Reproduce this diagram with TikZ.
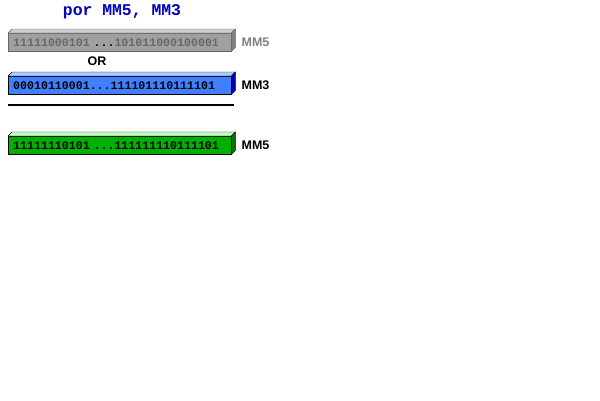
\documentclass[tikz,border=0pt]{standalone}
\usepackage{fontspec}
\setmainfont{Liberation Sans}
\newfontfamily\bitsfont{Liberation Mono}
\usetikzlibrary{positioning}

\definecolor{grayFront}{RGB}{160,160,160}
\definecolor{grayTop}{RGB}{204,204,204}
\definecolor{graySide}{RGB}{128,128,128}
\definecolor{grayEdge}{RGB}{100,100,100}
\definecolor{grayBits}{RGB}{104,104,104}
\definecolor{blueFront}{RGB}{64,128,255}
\definecolor{blueTop}{RGB}{170,204,255}
\definecolor{blueSide}{RGB}{0,0,170}
\definecolor{greenFront}{RGB}{0,176,0}
\definecolor{greenTop}{RGB}{192,255,192}
\definecolor{greenSide}{RGB}{0,120,0}
\definecolor{titleBlue}{RGB}{0,0,190}

\begin{document}
\begin{tikzpicture}[x=1pt, y=-1pt,
  bar/.style={draw, minimum height=18pt, text width=213pt, inner xsep=5pt,
              inner ysep=0pt, align=left, anchor=north west,
              font=\bitsfont\bfseries\fontsize{11.6}{12}\selectfont},
  reg/.style={inner sep=0pt, font=\bfseries\fontsize{12.5}{13}\selectfont},
  title/.style={font=\bitsfont\bfseries\fontsize{16.4}{17}\selectfont, text=titleBlue}
]
\useasboundingbox (0,0) rectangle (600,400);

\node[title] (caption) at (122,12) {por MM5, MM3};

% registers
\node[bar, fill=grayFront, draw=grayEdge] (srcfive) at (8,33)
  {{\color{grayBits}11111000101 }...{\color{grayBits}101011000100001}};
\node[bar, fill=blueFront] (srcthree) at (8,76) {00010110001...111101110111101};
\node[bar, fill=greenFront] (dstfive) at (8,136) {11111110101 ...111111110111101};

% 3d faces
\foreach \n/\t/\s/\e in {srcfive/grayTop/graySide/grayEdge,
                         srcthree/blueTop/blueSide/black,
                         dstfive/greenTop/greenSide/black} {
  \draw[fill=\t, draw=\e] (\n.north west) -- ++(4,-4) -- ([shift={(4,-4)}]\n.north east)
    -- (\n.north east) -- cycle;
  \draw[fill=\s, draw=\e] (\n.north east) -- ++(4,-4) -- ([shift={(4,-4)}]\n.south east)
    -- (\n.south east) -- cycle;
}

\node[reg, text=graySide, right=10pt of srcfive.east] (lblfive) {MM5};
\node[reg, right=10pt of srcthree.east] (lblthree) {MM3};
\node[reg, right=10pt of dstfive.east] (lbldst) {MM5};

\node[reg] (op) at (97,61) {OR};

\coordinate (ruleL) at (8,105);
\coordinate (ruleR) at (234,105);
\draw[line width=2pt] (ruleL) -- (ruleR);
\end{tikzpicture}
\end{document}
